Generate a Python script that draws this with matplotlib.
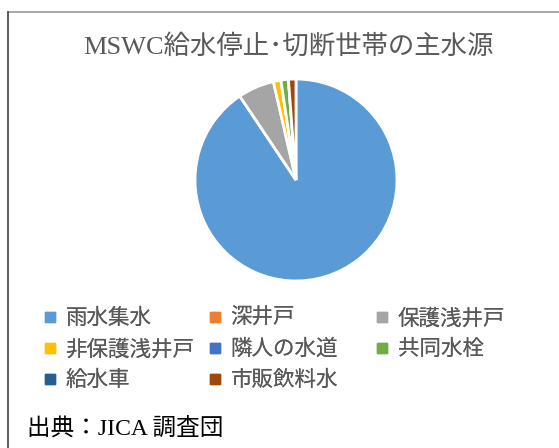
import matplotlib
matplotlib.use("Agg")
import matplotlib.pyplot as plt
from matplotlib.lines import Line2D

plt.rcParams['font.family'] = ['Liberation Serif', 'Noto Sans CJK JP']

# 主水源の内訳（%）
sources = ["雨水集水", "深井戸", "保護浅井戸", "非保護浅井戸", "隣人の水道", "共同水栓", "給水車", "市販飲料水"]
shares = [90.6, 0.0, 5.8, 1.2, 0.0, 1.2, 0.0, 1.2]
colors = ["#5B9BD5", "#ED7D31", "#A5A5A5", "#FFC000", "#4472C4", "#70AD47", "#255E91", "#9E480E"]

W, H = 559, 448
fig = plt.figure(figsize=(W / 100, H / 100), dpi=100)

# 枠線（上と左だけ見えている）
fig.add_artist(Line2D([7.5 / W, 1.0], [1 - 12.5 / H, 1 - 12.5 / H], color="#9a9a9a", lw=1.2))
fig.add_artist(Line2D([7.5 / W, 7.5 / W], [0.0, 1 - 12.5 / H], color="#404040", lw=1.2))

cx, cy, r = 296, 180, 103
ax = fig.add_axes([(cx - r) / W, 1 - (cy + r) / H, 2 * r / W, 2 * r / H])
ax.pie(shares, colors=colors, startangle=90, counterclock=False,
       wedgeprops=dict(edgecolor="white", linewidth=2))
ax.set_xlim(-1.02, 1.02)
ax.set_ylim(-1.02, 1.02)
ax.set_aspect("equal")
ax.axis("off")

fig.text(288 / W, 1 - 46 / H, "MSWC給水停止･切断世帯の主水源", ha="center", va="center",
         fontsize=19, color="#595959")

# 凡例：Excel風に列幅をそろえるため列ごとに作る
col_x = [44, 209, 376]
for k, x in enumerate(col_x):
    idx = list(range(k, len(sources), 3))
    handles = [Line2D([], [], marker="s", linestyle="none", markersize=7,
                      markerfacecolor=colors[i], markeredgecolor=colors[i]) for i in idx]
    leg = fig.legend(handles, [sources[i] for i in idx], loc="upper left",
                     bbox_to_anchor=(x / W, 1 - 309 / H), frameon=False,
                     fontsize=15.5, labelcolor="#595959", handlelength=0.6,
                     handletextpad=0.4, labelspacing=0.5, borderaxespad=0,
                     borderpad=0)
    fig.add_artist(leg)

fig.text(27 / W, 1 - 428 / H, "出典：JICA 調査団", ha="left", va="center",
         fontsize=17, color="black")

fig.savefig("out.png", dpi=100)
